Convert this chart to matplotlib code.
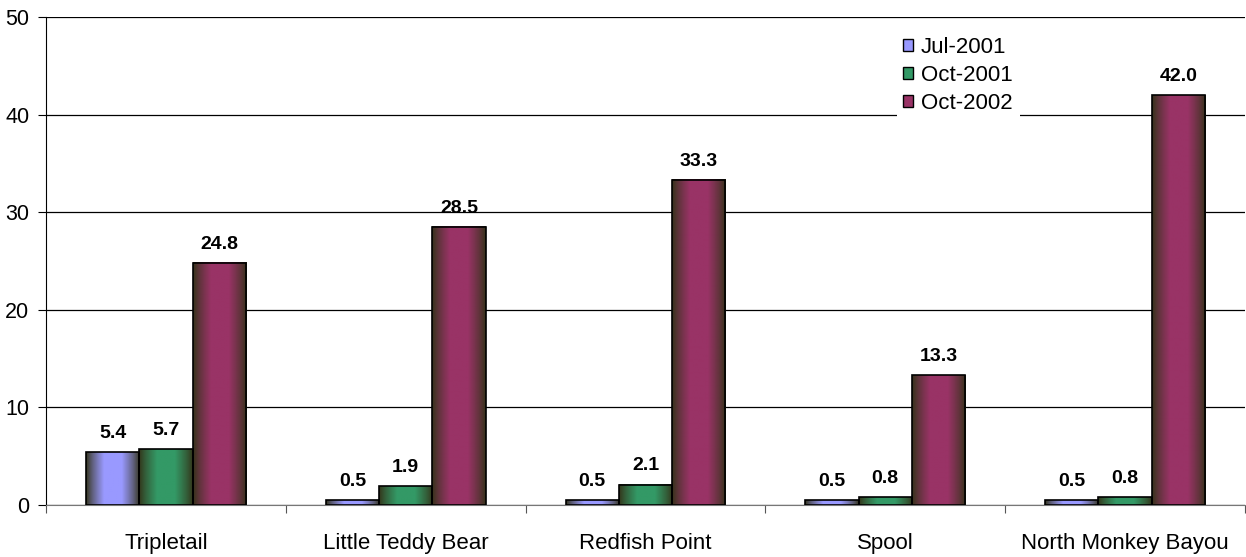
import matplotlib.pyplot as plt
import numpy as np
from matplotlib.colors import to_rgb
from matplotlib.patches import Patch

plt.rcParams['font.family'] = ['Liberation Sans', 'DejaVu Sans']

# Data
sites = ["Tripletail", "Little Teddy Bear", "Redfish Point", "Spool", "North Monkey Bayou"]
series = ["Jul-2001", "Oct-2001", "Oct-2002"]
jul_2001 = [5.4, 0.5, 0.5, 0.5, 0.5]
oct_2001 = [5.7, 1.9, 2.1, 0.8, 0.8]
oct_2002 = [24.8, 28.5, 33.3, 13.3, 42.0]
values = [jul_2001, oct_2001, oct_2002]

colors = ['#9999ff', '#339966', '#993366']
shade = '#333319'   # dark edge tone of the cylinder-like gradient

fig = plt.figure(figsize=(12.46, 5.57), dpi=100)
ax = fig.add_axes([46 / 1246, 1 - 505 / 557, 1199 / 1246, 488 / 557])

x = np.arange(len(sites))
width = 0.222

def gradient_img(color):
    t = np.linspace(0, 1, 64)
    w = np.clip((1 - np.abs(2 * t - 1)) * 1.5, 0, 1) ** 0.8
    c0 = np.array(to_rgb(shade))
    c1 = np.array(to_rgb(color))
    row = c0[None, :] * (1 - w[:, None]) + c1[None, :] * w[:, None]
    return row[None, :, :]

for i, (vals, col) in enumerate(zip(values, colors)):
    bars = ax.bar(x + (i - 1) * width, vals, width, facecolor='none',
                  edgecolor='black', linewidth=1.2, zorder=3)
    img = gradient_img(col)
    for b, v in zip(bars, vals):
        x0, w_ = b.get_x(), b.get_width()
        ax.imshow(img, extent=[x0, x0 + w_, 0, b.get_height()],
                  aspect='auto', zorder=2, interpolation='bilinear')
        ax.text(x0 + w_ / 2, v + 1.45, f"{v:.1f}", ha='center', va='baseline',
                fontsize=14, fontweight='bold')

ax.set_xlim(-0.5, len(sites) - 0.5)
ax.set_ylim(0, 50)
ax.set_yticks(range(0, 51, 10))
ax.yaxis.grid(True, color='black', linewidth=0.9)
ax.set_axisbelow(True)

# category labels centred, tick marks on the group boundaries
ax.set_xticks(np.arange(-0.5, len(sites), 1.0))
ax.set_xticklabels([])
ax.set_xticks(x, minor=True)
ax.set_xticklabels(sites, minor=True, fontsize=16)
ax.tick_params(axis='x', which='minor', length=0, pad=20)
ax.tick_params(axis='x', which='major', length=6, direction='out', color='#555555')
ax.tick_params(axis='y', length=6, direction='out', labelsize=15.5, pad=6)

for s in ['top', 'right']:
    ax.spines[s].set_visible(False)
ax.spines['bottom'].set_color('#777777')
ax.spines['left'].set_color('black')

handles = [Patch(facecolor=c, edgecolor='black', label=s) for c, s in zip(colors, series)]
leg = ax.legend(handles=handles, loc='upper left', bbox_to_anchor=(0.7095, 0.973),
                frameon=True, fontsize=16, handlelength=0.45, handleheight=0.45,
                handletextpad=0.35, labelspacing=0.32, borderpad=0.3,
                borderaxespad=0, fancybox=False)
leg.get_frame().set_edgecolor('none')
leg.get_frame().set_facecolor('white')
leg.get_frame().set_alpha(1)

fig.savefig('out.png', dpi=100)
